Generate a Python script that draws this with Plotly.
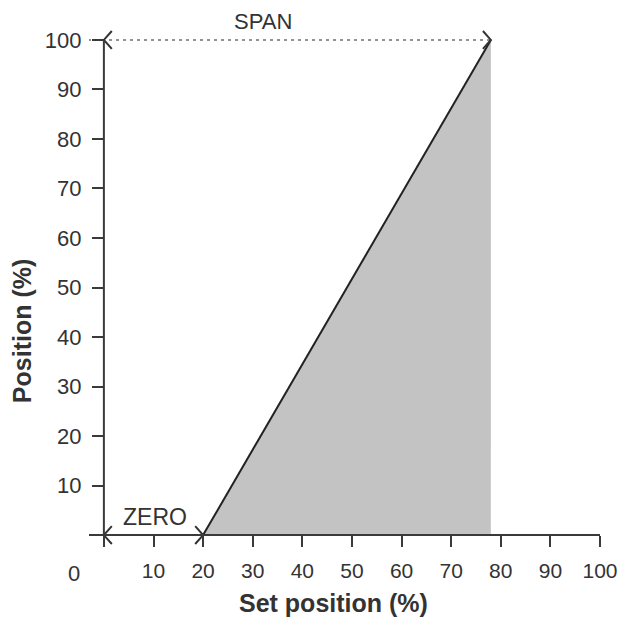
import plotly.graph_objects as go

# ---- data ----
set_position = [20, 78]          # x values of the characteristic line (start, end)
position = [0, 100]              # y values of the characteristic line
x_ticks = [0, 10, 20, 30, 40, 50, 60, 70, 80, 90, 100]
x_tick_labels = ["", "10", "20", "30", "40", "50", "60", "70", "80", "90", "100"]
y_ticks = [10, 20, 30, 40, 50, 60, 70, 80, 90, 100]
y_tick_labels = ["10", "20", "30", "40", "50", "60", "70", "80", "90", "100"]
zero_range = [0, 20]
span_range = [0, 78]
span_level = 100
zero_level = 0

# ---- style ----
FONT = "Liberation Sans, Arial, sans-serif"
AX = "#3a3a3a"
TXT = "#333333"
X_RANGE = [-3, 100]
Y_RANGE = [-2, 102]
ADX, ADY = 1.6, 1.8   # chevron arm size in data units

fig = go.Figure()

# grey filled area under the line
fig.add_trace(go.Scatter(
    x=[set_position[0], set_position[1], set_position[1]],
    y=[position[0], position[1], position[0]],
    fill="toself", fillcolor="#c3c3c3", mode="lines",
    line=dict(width=0, color="#c3c3c3"), hoverinfo="skip", showlegend=False))

# characteristic line
fig.add_trace(go.Scatter(
    x=set_position, y=position, mode="lines",
    line=dict(color="#222222", width=2), showlegend=False))

# SPAN dotted line
fig.add_trace(go.Scatter(
    x=[X_RANGE[0] - 0.2, span_range[1]], y=[span_level, span_level], mode="lines",
    line=dict(color="#6e6e6e", width=1.5, dash="3px,4px"), showlegend=False))

# ZERO line
fig.add_trace(go.Scatter(
    x=zero_range, y=[zero_level, zero_level], mode="lines",
    line=dict(color=AX, width=2), showlegend=False))


def chevrons(x0, x1, y):
    xs = [x0 + ADX, x0, x0 + ADX, None, x1 - ADX, x1, x1 - ADX]
    ys = [y + ADY, y, y - ADY, None, y + ADY, y, y - ADY]
    return go.Scatter(x=xs, y=ys, mode="lines", line=dict(color="#333333", width=2),
                      showlegend=False, hoverinfo="skip")


fig.add_trace(chevrons(span_range[0], span_range[1], span_level))
fig.add_trace(chevrons(zero_range[0], zero_range[1], zero_level))

# y axis line from 0 to 100 at x = 0
fig.add_shape(type="line", xref="x", yref="y", x0=0, x1=0,
              y0=zero_level, y1=y_ticks[-1], line=dict(color=AX, width=2))

annotations = [
    dict(text="SPAN", x=32, y=1.0165, xref="x", yref="paper", showarrow=False,
         yanchor="middle", font=dict(size=22, color=TXT, family=FONT)),
    dict(text="ZERO", x=10.3, y=3.6, xref="x", yref="y", showarrow=False,
         font=dict(size=23, color=TXT, family=FONT)),
    dict(text="0", x=-0.0303, y=-0.0544, xref="paper", yref="paper", showarrow=False,
         xanchor="center", yanchor="middle",
         font=dict(size=22, color=TXT, family=FONT)),
    dict(text="<b>Set position (%)</b>", x=46.3, y=-0.1126, xref="x", yref="paper",
         showarrow=False, yanchor="middle",
         font=dict(size=25, color=TXT, family=FONT)),
    dict(text="<b>Position (%)</b>", x=-0.131, y=41.2, xref="paper", yref="y",
         showarrow=False, textangle=-90, xanchor="center",
         font=dict(size=25, color=TXT, family=FONT)),
]

fig.update_layout(
    width=617, height=623,
    margin=dict(l=89, r=17, t=30, b=78, autoexpand=False),
    plot_bgcolor="white", paper_bgcolor="white",
    showlegend=False,
    annotations=annotations,
    xaxis=dict(
        range=X_RANGE, anchor="free",
        position=(0 - Y_RANGE[0]) / (Y_RANGE[1] - Y_RANGE[0]),
        tickmode="array", tickvals=x_ticks, ticktext=x_tick_labels,
        ticks="outside", ticklen=11, tickwidth=2, tickcolor=AX,
        showline=True, linecolor=AX, linewidth=2,
        showgrid=False, zeroline=False, automargin=False,
        tickfont=dict(size=21, color=TXT, family=FONT),
        ticklabelstandoff=6, ticklabeloverflow="allow",
    ),
    yaxis=dict(
        range=Y_RANGE, anchor="free",
        position=(0 - X_RANGE[0]) / (X_RANGE[1] - X_RANGE[0]),
        tickmode="array", tickvals=y_ticks, ticktext=y_tick_labels,
        ticks="outside", ticklen=12, tickwidth=2, tickcolor=AX,
        showline=False, showgrid=False, zeroline=False, automargin=False,
        tickfont=dict(size=22, color=TXT, family=FONT),
        ticklabelstandoff=6,
    ),
)

fig.write_html(
    "out.html",
    config={"displayModeBar": False},
    post_script="document.body.style.margin='0';document.body.style.overflow='hidden';",
)
